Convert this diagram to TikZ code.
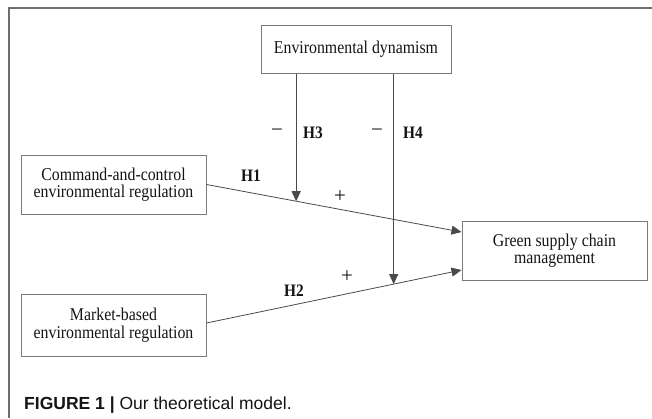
\documentclass[tikz,border=0pt]{standalone}
\usepackage{fontspec}
\setmainfont[FakeStretch=0.88]{Liberation Serif}
\newfontfamily\capfont{Liberation Sans}
\newfontfamily\signfont{Liberation Serif}
\usetikzlibrary{arrows.meta,calc}
\definecolor{boxgray}{HTML}{7A7A7A}
\definecolor{linegray}{HTML}{4A4A4A}
\definecolor{framegray}{HTML}{6E6E6E}
\definecolor{txt}{HTML}{141414}
\begin{document}
\begin{tikzpicture}[x=1pt,y=-1pt,
  varbox/.style={draw=boxgray,line width=1pt,rectangle,inner sep=0pt,align=center,
     font=\fontsize{18}{17.5}\selectfont,text=txt},
  link/.style={draw=linegray,line width=0.8pt},
  arr/.style={link,-{Triangle[length=10pt,width=9pt]}},
  hlab/.style={font=\fontsize{17.5}{18}\selectfont\bfseries,text=txt,inner sep=0pt},
  sign/.style={font=\signfont\fontsize{21}{22}\selectfont,text=txt,inner sep=0pt}]
\useasboundingbox (0,0) rectangle (652,418);
% open frame
\draw[framegray,line width=1.5pt] (9,418) -- (9,8) -- (652,8);
% boxes
\node[varbox,minimum width=190pt,minimum height=48pt] (env) at (356,49) {Environmental dynamism};
\node[varbox,minimum width=185pt,minimum height=59pt] (cmd) at (113.5,184.5) {Command-and-control\\environmental regulation};
\node[varbox,minimum width=185pt,minimum height=62pt] (mkt) at (113.5,325) {Market-based\\environmental regulation};
\node[varbox,minimum width=185pt,minimum height=59pt] (gscm) at (554.5,250.5) {Green supply chain\\management};
% main paths
\coordinate (h1s) at (cmd.east);
\coordinate (h1e) at ([yshift=18.5pt]gscm.west);
\coordinate (h2s) at ([yshift=2pt]mkt.east);
\coordinate (h2e) at ([yshift=-19.5pt]gscm.west);
\draw[arr] (h1s) -- (h1e);
\draw[arr] (h2s) -- (h2e);
\path (h1s) -- coordinate[pos=0.3516] (m1) (h1e);
\path (h2s) -- coordinate[pos=0.734] (m2) (h2e);
% moderating arrows
\draw[arr] (env.south -| m1) -- (m1);
\draw[arr] (env.south -| m2) -- (m2);
% labels
\node[hlab] (H3) at (313,133) {H3};
\node[sign] (n3) at (277,133) {−};
\node[hlab] (H4) at (413,133) {H4};
\node[sign] (n4) at (377,133) {−};
\node[hlab] (H1) at (251,176) {H1};
\node[sign] (p1) at (340,197) {+};
\node[hlab] (H2) at (294,291) {H2};
\node[sign] (p2) at (347,277) {+};
% caption
\node[anchor=west,inner sep=0pt,text=txt,font=\capfont\fontsize{17.5}{20}\selectfont] (cap) at (24,405)
  {\textbf{FIGURE 1 |} Our theoretical model.};
\end{tikzpicture}
\end{document}
